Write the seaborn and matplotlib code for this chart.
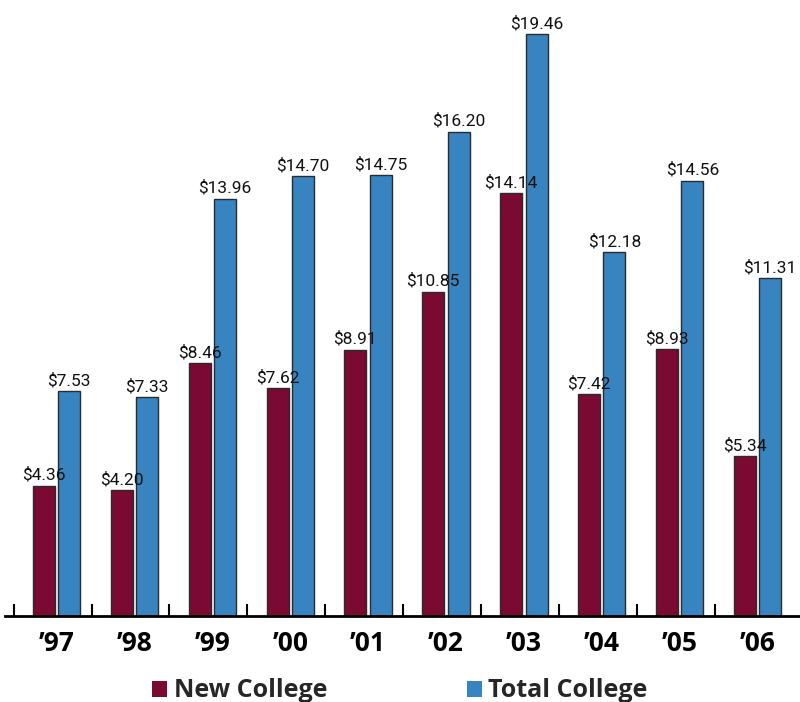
import matplotlib
matplotlib.use("Agg")
import matplotlib.pyplot as plt
from matplotlib.patches import Patch
import seaborn as sns
import pandas as pd

years = ["\u201997", "\u201998", "\u201999", "\u201900", "\u201901",
         "\u201902", "\u201903", "\u201904", "\u201905", "\u201906"]
new_college = [4.36, 4.20, 8.46, 7.62, 8.91, 10.85, 14.14, 7.42, 8.93, 5.34]
total_college = [7.53, 7.33, 13.96, 14.70, 14.75, 16.20, 19.46, 12.18, 14.56, 11.31]
series = ["New College", "Total College"]
colors = ["#7b0a32", "#3784c1"]

df = pd.DataFrame({
    "year": years * 2,
    "value": new_college + total_college,
    "series": [series[0]] * len(years) + [series[1]] * len(years),
})

sns.set_theme(style="white")
plt.rcParams["font.family"] = ["Open Sans", "DejaVu Sans"]

fig = plt.figure(figsize=(8, 7.02), dpi=100)
ax = fig.add_axes([5 / 800, 86 / 702, 795 / 800, 613 / 702])

sns.barplot(data=df, x="year", y="value", hue="series", palette=colors,
            width=0.65, gap=0.13, edgecolor="#2a2a2a", linewidth=1.0,
            saturation=1, ax=ax, legend=False)

for cont in ax.containers:
    ax.bar_label(cont, fmt="${:.2f}", padding=2, fontsize=12.5,
                 family=["Roboto", "DejaVu Sans"], color="#111111")

n = len(years)
ax.set_xlim(-0.661, 9.545)
ax.set_ylim(0, 20.5)
ax.set_xlabel("")
ax.set_ylabel("")
ax.set_yticks([])
for s in ["top", "right", "left"]:
    ax.spines[s].set_visible(False)
ax.spines["bottom"].set_color("black")
ax.spines["bottom"].set_linewidth(2)

ax.set_xticks(range(n))
ax.set_xticklabels(years, fontsize=19, fontweight="bold", color="black")
ax.tick_params(axis="x", which="major", length=0, pad=10)
ax.set_xticks([i - 0.55 for i in range(n)], minor=True)
ax.tick_params(axis="x", which="minor", direction="in", length=8.5, width=1.5,
               color="black", bottom=True)

handles = [Patch(facecolor=c, edgecolor="none") for c in colors]
fig.legend(handles, series, ncol=2, loc="lower center", bbox_to_anchor=(0.5, -0.002),
           frameon=False, prop={"weight": "bold", "size": 18},
           handlelength=0.6, handleheight=0.6, handletextpad=0.25,
           columnspacing=5.6, borderpad=0, borderaxespad=0)

fig.savefig("out.png", dpi=100)
